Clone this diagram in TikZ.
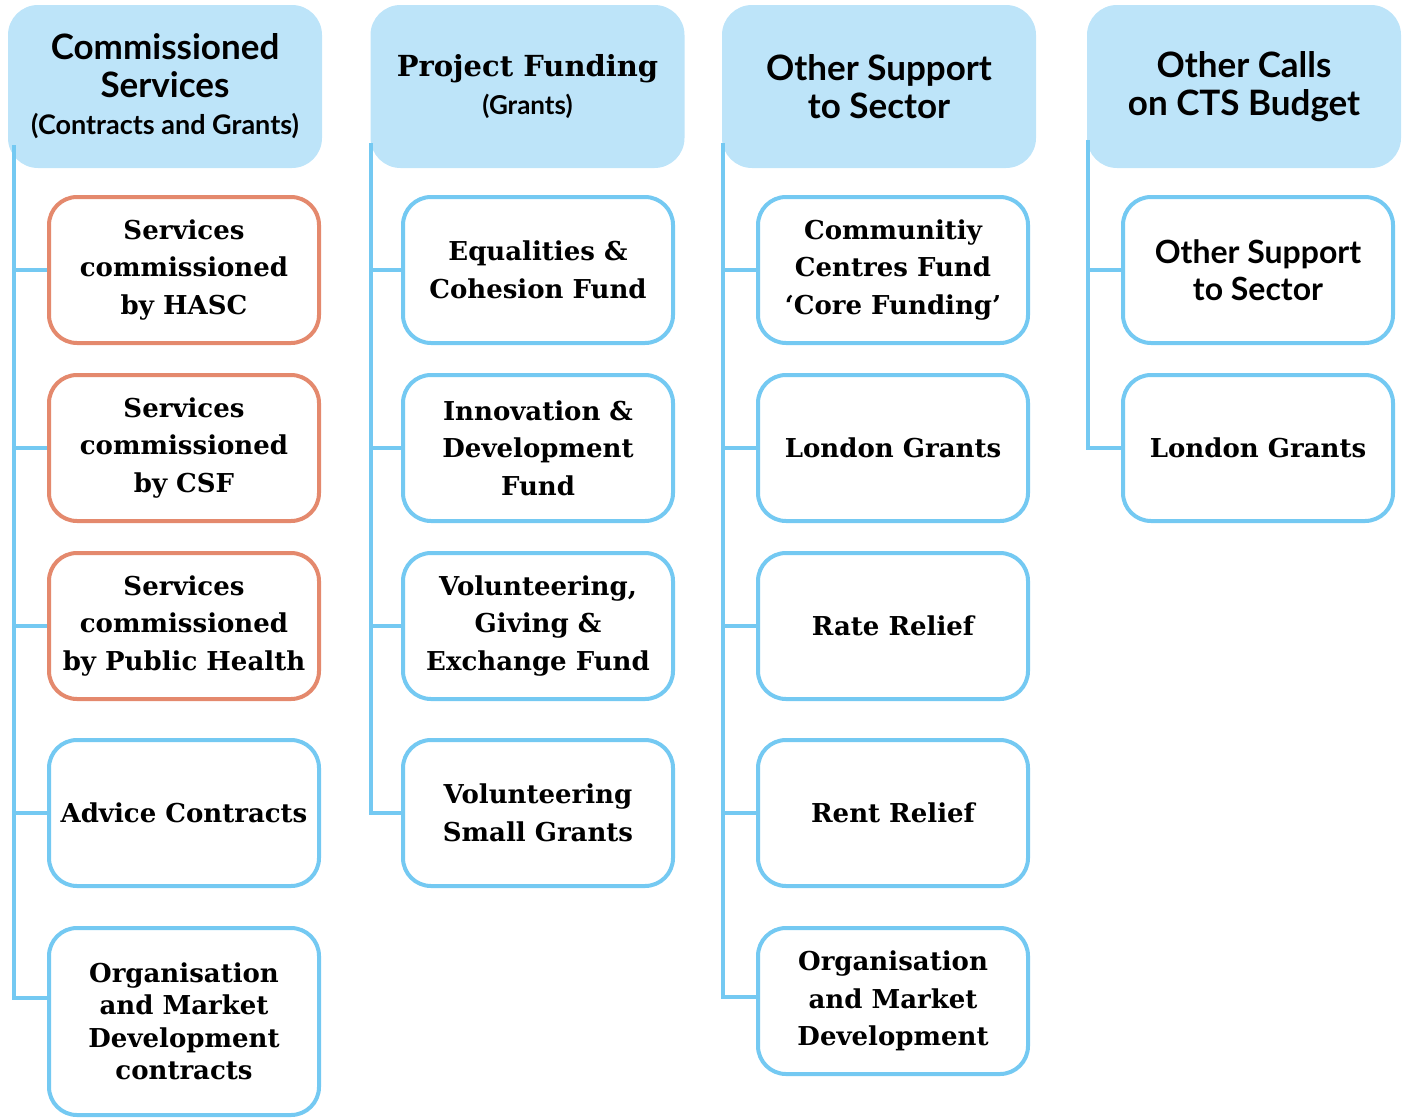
\documentclass[tikz,border=0pt]{standalone}
\usepackage{fontspec}
\setmainfont{DejaVu Serif}
\newfontfamily\hsans{Lato}
\usetikzlibrary{positioning}
\definecolor{skyfill}{HTML}{BDE4F9}
\definecolor{skyline}{HTML}{74C9F2}
\definecolor{salmon}{HTML}{E4896D}

\begin{document}
\begin{tikzpicture}[x=1pt,y=-1pt,
		hdr/.style={fill=skyfill, rounded corners=30pt, minimum width=314pt, minimum height=163pt, align=center, font=\hsans\bfseries\fontsize{35}{37.5}\selectfont},
		sub/.style={draw=skyline, line width=4pt, fill=white, rounded corners=28pt, minimum width=270pt, minimum height=146pt, align=center, font=\bfseries\fontsize{26}{37.5}\selectfont},
		subo/.style={sub, draw=salmon},
		link/.style={draw=skyline, line width=4pt}
	]
	\useasboundingbox (0,0) rectangle (1407,1119);

	% Column headers
	\node[hdr] (h1) at (165,86.5) {Commissioned\\Services\\{\fontsize{27}{30}\selectfont(Contracts and Grants)}};
	\node[hdr] (h2) at (527.5,86.5) {{\rmfamily\fontsize{29}{37}\selectfont Project Funding}\\{\fontsize{26}{30}\selectfont(Grants)}};
	\node[hdr] (h3) at (879,86.5) {Other Support\\to Sector};
	\node[hdr] (h4) at (1244,86.5) {Other Calls\\on CTS Budget};

	% Commissioned services
	\node[subo] (c1a) at (184,270) {Services\\commissioned\\by HASC};
	\node[subo] (c1b) at (184,448) {Services\\commissioned\\by CSF};
	\node[subo] (c1c) at (184,626) {Services\\commissioned\\by Public Health};
	\node[sub] (c1d) at (184,813) {Advice Contracts};
	\node[sub, minimum height=187pt, font=\bfseries\fontsize{26}{32.5}\selectfont] (c1e) at (184,1021.5) {Organisation\\and Market\\Development\\contracts};

	% Project funding
	\node[sub] (c2a) at (538,270) {Equalities \&\\Cohesion Fund};
	\node[sub] (c2b) at (538,448) {Innovation \&\\Development\\Fund};
	\node[sub] (c2c) at (538,626) {Volunteering,\\Giving \&\\Exchange Fund};
	\node[sub] (c2d) at (538,813) {Volunteering\\Small Grants};

	% Other support
	\node[sub] (c3a) at (893,270) {Communitiy\\Centres Fund\\‘Core Funding’};
	\node[sub] (c3b) at (893,448) {London Grants};
	\node[sub] (c3c) at (893,626) {Rate Relief};
	\node[sub] (c3d) at (893,813) {Rent Relief};
	\node[sub] (c3e) at (893,1001) {Organisation\\and Market\\Development};

	% Other calls
	\node[sub, font=\hsans\bfseries\fontsize{32}{37.5}\selectfont] (c4a) at (1258,270) {Other Support\\to Sector};
	\node[sub] (c4b) at (1258,448) {London Grants};

	% Trunks
	\coordinate (t1) at (14,145);
	\coordinate (t2) at (371,143);
	\coordinate (t3) at (723,143);
	\coordinate (t4) at (1088,140);

	\foreach \n in {c1a,c1b,c1c,c1d} \draw[link] (t1) |- (\n.west);
	\draw[link] (t1) |- ([yshift=24pt]c1e.west);
	\foreach \n in {c2a,c2b,c2c,c2d} \draw[link] (t2) |- (\n.west);
	\foreach \n in {c3a,c3b,c3c,c3d} \draw[link] (t3) |- (\n.west);
	\draw[link] (t3) |- ([yshift=4pt]c3e.west);
	\foreach \n in {c4a,c4b} \draw[link] (t4) |- (\n.west);
\end{tikzpicture}
\end{document}
